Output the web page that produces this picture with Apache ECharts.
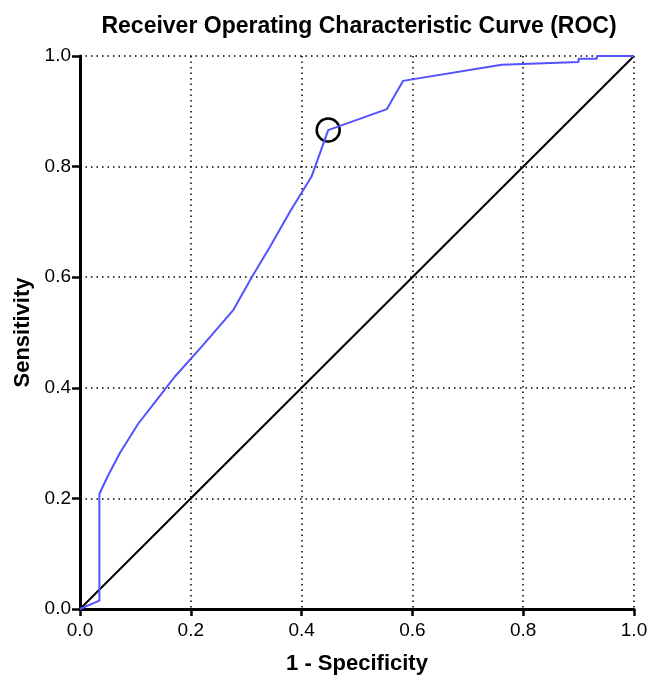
<!DOCTYPE html>
<html>
<head>
<meta charset="utf-8">
<script src="https://cdn.jsdelivr.net/npm/echarts@6/dist/echarts.min.js"></script>
<style>
  html, body { margin: 0; padding: 0; background: #fff; }
  #chart { width: 660px; height: 677px; }
</style>
</head>
<body>
<div id="chart"></div>
<script>
// ROC curve points
var fpr = [0, 0.035, 0.035, 0.05, 0.072, 0.105, 0.14, 0.171, 0.22, 0.277, 0.31, 0.343, 0.38, 0.418, 0.448, 0.554, 0.583, 0.761, 0.9, 0.9, 0.933, 0.933, 1.0]
var tpr = [0, 0.015, 0.208, 0.24, 0.282, 0.335, 0.38, 0.42, 0.475, 0.541, 0.60, 0.655, 0.72, 0.782, 0.866, 0.904, 0.955, 0.984, 0.989, 0.995, 0.995, 1.0, 1.0]
var cutoff = [0.448, 0.866] // circled point
var ticks = [0, 0.2, 0.4, 0.6, 0.8, 1.0]

var rocData = fpr.map(function(x, i) { return [x, tpr[i]] })

var chart = echarts.init(document.getElementById('chart'))

function axisStyle(name, gap, isY) {
  return {
    type: 'value',
    min: ticks[0],
    max: ticks[ticks.length - 1],
    interval: 0.2,
    name: name,
    nameLocation: 'middle',
    nameGap: gap,
    nameRotate: isY ? 90 : 0,
    nameTextStyle: {
      fontFamily: 'Liberation Sans',
      fontWeight: 'bold',
      fontSize: 22,
      color: '#000'
    },
    axisLine: { show: true, onZero: false, lineStyle: { color: '#000', width: 3 } },
    axisTick: { show: true, length: isY ? 8 : 7, lineStyle: { color: '#000', width: 2.5 } },
    axisLabel: {
      margin: isY ? 9 : 12,
      fontFamily: 'Liberation Sans',
      fontSize: 19,
      color: '#000',
      formatter: function(v) { return v.toFixed(1) }
    },
    splitLine: {
      show: true,
      lineStyle: { color: '#000', width: 1.5, type: [1.5, 4] }
    }
  }
}

chart.setOption({
  animation: false,
  title: {
    text: 'Receiver Operating Characteristic Curve (ROC)',
    left: 354,
    top: 10,
    textAlign: 'center',
    textStyle: {
      fontFamily: 'Liberation Sans',
      fontWeight: 'bold',
      fontSize: 23,
      color: '#000'
    }
  },
  grid: { left: 80, right: 26, top: 56, bottom: 68, outerBoundsMode: 'none' },
  xAxis: axisStyle('1 - Specificity', 44, false),
  yAxis: axisStyle('Sensitivity', 45, true),
  series: [
    {
      type: 'line',
      data: [[0, 0], [1, 1]],
      symbol: 'none',
      lineStyle: { color: '#000', width: 2 }
    },
    {
      type: 'line',
      data: rocData,
      symbol: 'none',
      lineStyle: { color: '#5252ff', width: 2 }
    },
    {
      type: 'scatter',
      data: [cutoff],
      symbol: 'circle',
      symbolSize: 23,
      itemStyle: { color: 'rgba(0,0,0,0)', borderColor: '#000', borderWidth: 2.5, opacity: 1 }
    }
  ]
})
</script>
</body>
</html>
